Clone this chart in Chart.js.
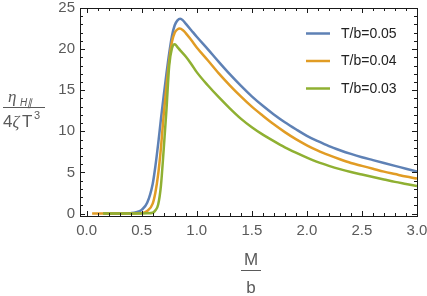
<!DOCTYPE html>
<html>
<head>
<meta charset="utf-8">
<script src="https://cdn.jsdelivr.net/npm/chart.js@4"></script>
<style>
html,body{margin:0;padding:0;background:#fff;}
#wrap{width:427px;height:296px;position:relative;}
</style>
</head>
<body>
<div id="wrap"><canvas id="c" width="427" height="296"></canvas></div>
<script>
// ---- data ----
const seriesLabels = ["T/b=0.05", "T/b=0.04", "T/b=0.03"];
const xTicks = [0, 0.5, 1.0, 1.5, 2.0, 2.5, 3.0];
const yTicks = [0, 5, 10, 15, 20, 25];

const blueX = [0.15,0.2,0.3,0.4,0.45,0.5,0.55,0.6,0.625,0.65,0.675,0.7,0.725,0.75,0.775,0.8,0.825,0.85,0.875,0.9,0.95,1.0,1.1,1.2,1.3,1.4,1.5,1.6,1.7,1.8,1.9,2.0,2.1,2.2,2.3,2.4,2.5,2.6,2.7,2.8,2.9,3.0];
const blueY = [0,0,0,0.05,0.15,0.45,1.3,3.6,5.8,8.5,11.5,14.3,17.0,19.5,21.6,22.9,23.5,23.7,23.5,23.1,22.3,21.5,20.0,18.45,16.95,15.55,14.25,13.1,12.05,11.1,10.25,9.45,8.8,8.2,7.7,7.25,6.85,6.5,6.15,5.8,5.45,5.1];

const orangeX = [0.05,0.1,0.2,0.3,0.4,0.5,0.55,0.6,0.625,0.65,0.675,0.7,0.725,0.75,0.775,0.8,0.825,0.845,0.875,0.9,0.95,1.0,1.1,1.2,1.3,1.4,1.5,1.6,1.7,1.8,1.9,2.0,2.1,2.2,2.3,2.4,2.5,2.6,2.7,2.8,2.9,3.0];
const orangeY = [0,0,0,0,0,0.05,0.3,1.2,2.6,4.8,8.0,12.0,15.5,18.6,20.9,22.0,22.4,22.5,22.3,21.95,21.1,20.2,18.65,17.05,15.6,14.25,13.0,11.9,10.85,9.9,9.05,8.3,7.65,7.1,6.6,6.15,5.8,5.45,5.1,4.8,4.5,4.25];

const greenX = [0.15,0.2,0.3,0.4,0.5,0.55,0.6,0.625,0.65,0.675,0.7,0.725,0.75,0.775,0.8,0.825,0.85,0.9,0.95,1.0,1.1,1.2,1.3,1.4,1.5,1.6,1.7,1.8,1.9,2.0,2.1,2.2,2.3,2.4,2.5,2.6,2.7,2.8,2.9,3.0];
const greenY = [0,0,0,0,0,0.02,0.1,0.4,1.1,3.4,7.8,12.6,18.0,20.1,20.6,20.25,19.85,19.1,18.2,17.2,15.6,14.15,12.8,11.55,10.5,9.6,8.8,8.05,7.4,6.8,6.25,5.8,5.4,5.05,4.75,4.45,4.15,3.85,3.6,3.35];

const colors = ["#5E81B5", "#E19C24", "#8FB032"];

function pts(xs, ys){ return xs.map((x,i)=>({x:x, y:ys[i]})); }

const TICK_COLOR = "#5a5a5a";
const FONT = '"Liberation Sans", Arial, sans-serif';

const decorPlugin = {
  id: 'decor',
  afterDraw(chart){
    const ctx = chart.ctx;
    const a = chart.chartArea;
    const xs = chart.scales.x, ys = chart.scales.y;
    ctx.save();
    // frame
    ctx.strokeStyle = "#1a1a1a";
    ctx.lineWidth = 1;
    ctx.strokeRect(Math.round(a.left)+0.5, Math.round(a.top)+0.5, Math.round(a.right-a.left), Math.round(a.bottom-a.top));
    // ticks on all four sides, inward
    ctx.beginPath();
    for (let i = 0; i <= 30; i++) {
      const v = i/10;
      const px = Math.round(xs.getPixelForValue(v)) + 0.5;
      const len = (i % 5 === 0) ? 5 : 3;
      ctx.moveTo(px, a.bottom); ctx.lineTo(px, a.bottom - len);
      ctx.moveTo(px, a.top); ctx.lineTo(px, a.top + len);
    }
    for (let i = 0; i <= 25; i++) {
      const py = Math.round(ys.getPixelForValue(i)) + 0.5;
      const len = (i % 5 === 0) ? 5 : 3;
      ctx.moveTo(a.left, py); ctx.lineTo(a.left + len, py);
      ctx.moveTo(a.right, py); ctx.lineTo(a.right - len, py);
    }
    ctx.stroke();

    // legend
    const legY = [33.5, 61, 88.5];
    seriesLabels.forEach((lab, i) => {
      ctx.strokeStyle = colors[i];
      ctx.lineWidth = 2.5;
      ctx.beginPath();
      ctx.moveTo(306, legY[i]); ctx.lineTo(330, legY[i]);
      ctx.stroke();
      ctx.fillStyle = "#222";
      ctx.font = '14px ' + FONT;
      ctx.textBaseline = 'middle';
      ctx.textAlign = 'left';
      ctx.fillText(lab, 341, legY[i] + 0.5);
    });

    // x-axis title  M / b
    ctx.fillStyle = TICK_COLOR;
    ctx.strokeStyle = TICK_COLOR;
    ctx.textAlign = 'center';
    ctx.textBaseline = 'alphabetic';
    ctx.font = '17px ' + FONT;
    ctx.fillText('M', 251, 265);
    ctx.lineWidth = 1;
    ctx.beginPath(); ctx.moveTo(241, 270.5); ctx.lineTo(261, 270.5); ctx.stroke();
    ctx.fillText('b', 251, 293);

    // y-axis title  eta_{H||} / (4 zeta T^3)
    ctx.textAlign = 'left';
    ctx.font = 'italic 17px "Liberation Serif", serif';
    ctx.fillText('\u03B7', 8, 102);
    ctx.font = 'italic 10px ' + FONT;
    ctx.fillText('H\u2225', 20, 106);
    ctx.beginPath(); ctx.moveTo(3, 107.5); ctx.lineTo(45, 107.5); ctx.stroke();
    ctx.font = '17px ' + FONT;
    ctx.fillText('4', 3, 127);
    ctx.font = 'italic 17px "Liberation Serif", serif';
    ctx.fillText('\u03B6', 12.5, 127);
    ctx.font = '17px ' + FONT;
    ctx.fillText('T', 22, 127);
    ctx.font = '11px ' + FONT;
    ctx.fillText('3', 34, 119);
    ctx.restore();
  }
};

new Chart(document.getElementById('c'), {
  type: 'line',
  data: {
    datasets: [
      { label: seriesLabels[0], data: pts(blueX, blueY), borderColor: colors[0], order: 2 },
      { label: seriesLabels[1], data: pts(orangeX, orangeY), borderColor: colors[1], order: 1 },
      { label: seriesLabels[2], data: pts(greenX, greenY), borderColor: colors[2], order: 0 }
    ]
  },
  options: {
    responsive: false,
    animation: false,
    devicePixelRatio: 1,
    layout: { padding: { top: 8, right: 10, left: 0, bottom: 0 } },
    elements: {
      point: { radius: 0 },
      line: { borderWidth: 2.5, cubicInterpolationMode: 'monotone', fill: false }
    },
    plugins: { legend: { display: false }, tooltip: { enabled: false } },
    scales: {
      x: {
        type: 'linear', min: -0.06, max: 3.0,
        grid: { display: false, drawTicks: false },
        border: { display: false },
        afterBuildTicks: s => { s.ticks = xTicks.map(v => ({ value: v })); },
        afterFit: s => { s.height = 80; s.paddingLeft = 0; s.paddingRight = 0; },
        ticks: {
          padding: 6, color: TICK_COLOR, font: { family: FONT, size: 15 },
          maxRotation: 0, autoSkip: false,
          callback: v => Number(v).toFixed(1)
        }
      },
      y: {
        type: 'linear', min: -0.3, max: 25,
        grid: { display: false, drawTicks: false },
        border: { display: false },
        afterBuildTicks: s => { s.ticks = yTicks.map(v => ({ value: v })); },
        afterFit: s => { s.width = 80; s.paddingTop = 0; s.paddingBottom = 0; },
        ticks: {
          padding: 5, color: TICK_COLOR, font: { family: FONT, size: 15 },
          autoSkip: false,
          callback: v => String(v)
        }
      }
    }
  },
  plugins: [decorPlugin]
});
</script>
</body>
</html>
